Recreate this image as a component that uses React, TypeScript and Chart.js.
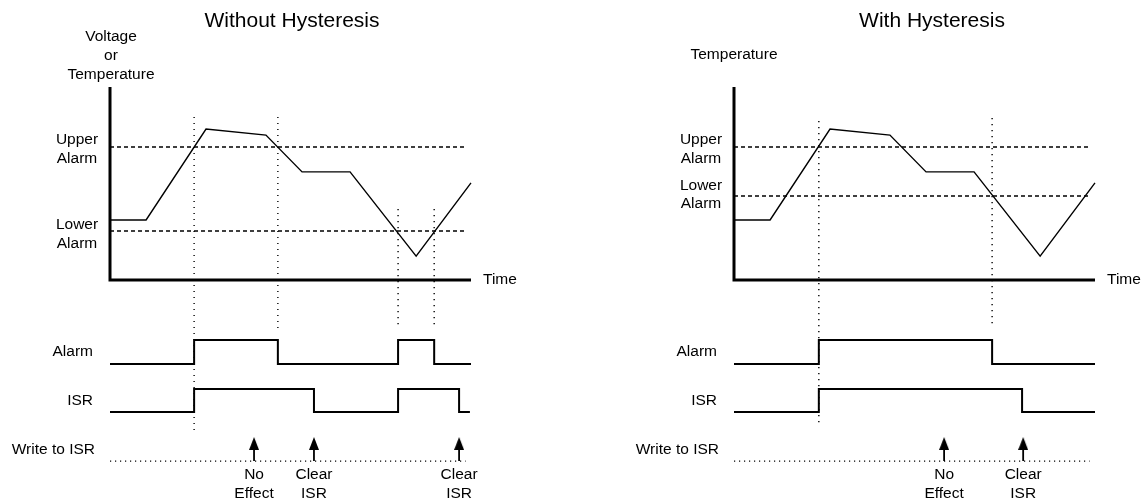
import { useEffect, useRef } from 'react';
import { Chart, registerables } from 'chart.js';

Chart.register(...registerables);

// ---------- data (time 0..100, value -100..100; analog signal lives in 0..100) ----------
const TIME = [0, 10, 26.6, 43.2, 53.2, 66.5, 84.8, 100];
const SIGNAL = [31.1, 31.1, 78.2, 75.1, 56, 56, 12.4, 50.3];

const UPPER_ALARM = 68.9;
const LOWER_ALARM_NO_HYST = 25.4;
const LOWER_ALARM_HYST = 43.5;

const ALARM_EDGES_NO_HYST = [23.3, 46.5, 79.8, 89.8];
const ISR_EDGES_NO_HYST = [23.3, 56.5, 79.8, 96.7];
const ALARM_EDGES_HYST = [23.5, 71.5];
const ISR_EDGES_HYST = [23.5, 79.8];

const WRITES_NO_HYST = [39.9, 56.5, 96.7];
const WRITES_HYST = [58.2, 80.1];
const WRITE_LABELS_NO_HYST = [['No', 'Effect'], ['Clear', 'ISR'], ['Clear', 'ISR']];
const WRITE_LABELS_HYST = [['No', 'Effect'], ['Clear', 'ISR']];

// [time, top value, bottom value]
const MARKERS_NO_HYST = [[23.3, 84.5, -77.7], [46.5, 84.5, -24.9], [79.8, 36.8, -24.9], [89.8, 36.8, -24.9]];
const MARKERS_HYST = [[23.5, 82.4, -76.2], [71.5, 83.9, -24.9]];

const ALARM_ROW = [-43.5, -31.1]; // low, high
const ISR_ROW = [-68.4, -56.5];
const WRITE_ROW = -93.8;
const ARROW_HEAD = -84.7;

const FONT = '"Liberation Sans", Arial, Helvetica, sans-serif';

function trace(edges: number[], end: number, row: number[]) {
  const pts = [{ x: 0, y: row[0] }];
  let lvl = 0;
  for (const e of edges) {
    pts.push({ x: e, y: row[lvl] });
    lvl = 1 - lvl;
    pts.push({ x: e, y: row[lvl] });
  }
  pts.push({ x: end, y: row[lvl] });
  return pts;
}

function arrowImage() {
  const c = document.createElement('canvas');
  c.width = 10;
  c.height = 13;
  const g = c.getContext('2d')!;
  g.fillStyle = '#000';
  g.beginPath();
  g.moveTo(5, 0);
  g.lineTo(10, 13);
  g.lineTo(0, 13);
  g.closePath();
  g.fill();
  return c;
}

type Panel = {
  title: string;
  titleX: number;
  yLabel: string[];
  yLabelY: number[];
  yLabelDX: number;
  lower: number;
  upperOff: number[];
  lowerOff: number[];
  alarmEdges: number[];
  isrEdges: number[];
  isrEnd: number;
  writes: number[];
  writeLabels: string[][];
  markers: number[][];
  padLeft: number;
  padRight: number;
  width: number;
  left: number;
};

const PANELS: Panel[] = [
  {
    title: 'Without Hysteresis', titleX: 292,
    yLabel: ['Voltage', 'or', 'Temperature'], yLabelY: [37, 56, 75], yLabelDX: 1,
    lower: LOWER_ALARM_NO_HYST, upperOff: [-7, 12], lowerOff: [-6, 13],
    alarmEdges: ALARM_EDGES_NO_HYST, isrEdges: ISR_EDGES_NO_HYST, isrEnd: 99.7,
    writes: WRITES_NO_HYST, writeLabels: WRITE_LABELS_NO_HYST, markers: MARKERS_NO_HYST,
    padLeft: 110, padRight: 100, width: 571, left: 0,
  },
  {
    title: 'With Hysteresis', titleX: 361,
    yLabel: ['Temperature'], yLabelY: [55], yLabelDX: 0,
    lower: LOWER_ALARM_HYST, upperOff: [-7, 12], lowerOff: [-10, 8],
    alarmEdges: ALARM_EDGES_HYST, isrEdges: ISR_EDGES_HYST, isrEnd: 100,
    writes: WRITES_HYST, writeLabels: WRITE_LABELS_HYST, markers: MARKERS_HYST,
    padLeft: 163, padRight: 48, width: 572, left: 571,
  },
];

function line(data: any[], width: number, dash: number[] = []) {
  return {
    type: 'scatter' as const,
    data,
    showLine: true,
    borderColor: '#000',
    backgroundColor: '#000',
    borderWidth: width,
    borderDash: dash,
    pointRadius: 0,
    pointHoverRadius: 0,
    tension: 0,
    clip: false as any,
  };
}

function PanelChart({ p }: { p: Panel }) {
  const ref = useRef<HTMLCanvasElement>(null);
  useEffect(() => {
    document.body.style.margin = '0';
    const head = arrowImage();
    const datasets: any[] = [];
    datasets.push({ ...line([{ x: 0, y: 100 }, { x: 0, y: 0 }, { x: 100, y: 0 }], 3), borderJoinStyle: 'miter' });
    datasets.push(line(TIME.map((t, i) => ({ x: t, y: SIGNAL[i] })), 1.4));
    datasets.push(line([{ x: 0, y: UPPER_ALARM }, { x: 98.9, y: UPPER_ALARM }], 1.6, [4, 3]));
    datasets.push(line([{ x: 0, y: p.lower }, { x: 98.9, y: p.lower }], 1.6, [4, 3]));
    for (const m of p.markers) {
      datasets.push(line([{ x: m[0], y: m[1] }, { x: m[0], y: m[2] }], 1.4, [1.2, 4.8]));
    }
    datasets.push(line(trace(p.alarmEdges, 100, ALARM_ROW), 2));
    datasets.push(line(trace(p.isrEdges, p.isrEnd, ISR_ROW), 2));
    datasets.push(line([{ x: 0, y: WRITE_ROW }, { x: 98.5, y: WRITE_ROW }], 1.3, [1.2, 3.8]));
    for (const w of p.writes) {
      datasets.push(line([{ x: w, y: WRITE_ROW }, { x: w, y: ARROW_HEAD }], 1.8));
    }
    datasets.push({
      type: 'scatter',
      data: p.writes.map((w) => ({ x: w, y: ARROW_HEAD })),
      pointStyle: head,
      pointRadius: 6,
      clip: false,
    });

    const textPlugin = {
      id: 'diagramText',
      afterDraw(chart: any) {
        const ctx = chart.ctx as CanvasRenderingContext2D;
        const xs = chart.scales.x;
        const ys = chart.scales.y;
        const L = chart.chartArea.left;
        const R = chart.chartArea.right;
        ctx.save();
        ctx.fillStyle = '#000';
        ctx.textBaseline = 'middle';
        ctx.textAlign = 'center';
        ctx.font = `21px ${FONT}`;
        ctx.fillText(p.title, p.titleX, 21);
        ctx.font = `15.5px ${FONT}`;
        p.yLabel.forEach((s, i) => ctx.fillText(s, L + p.yLabelDX, p.yLabelY[i]));
        const yu = ys.getPixelForValue(UPPER_ALARM);
        ctx.fillText('Upper', L - 33, yu + p.upperOff[0]);
        ctx.fillText('Alarm', L - 33, yu + p.upperOff[1]);
        const yl = ys.getPixelForValue(p.lower);
        ctx.fillText('Lower', L - 33, yl + p.lowerOff[0]);
        ctx.fillText('Alarm', L - 33, yl + p.lowerOff[1]);
        ctx.textAlign = 'left';
        ctx.fillText('Time', R + 12, ys.getPixelForValue(0));
        ctx.textAlign = 'right';
        const ya = (ys.getPixelForValue(ALARM_ROW[0]) + ys.getPixelForValue(ALARM_ROW[1])) / 2;
        ctx.fillText('Alarm', L - 17, ya);
        const yi = (ys.getPixelForValue(ISR_ROW[0]) + ys.getPixelForValue(ISR_ROW[1])) / 2;
        ctx.fillText('ISR', L - 17, yi);
        const yw = ys.getPixelForValue(WRITE_ROW);
        ctx.fillText('Write to ISR', L - 15, yw - 11);
        ctx.textAlign = 'center';
        p.writes.forEach((w, i) => {
          const x = xs.getPixelForValue(w);
          ctx.fillText(p.writeLabels[i][0], x, yw + 14);
          ctx.fillText(p.writeLabels[i][1], x, yw + 33);
        });
        ctx.restore();
      },
    };

    const chart = new Chart(ref.current!, {
      type: 'scatter',
      data: { datasets },
      options: {
        animation: false,
        responsive: false,
        events: [],
        layout: { padding: { left: p.padLeft, right: p.padRight, top: 87, bottom: 31 } },
        scales: {
          x: { type: 'linear', min: 0, max: 100, display: false },
          y: { type: 'linear', min: -100, max: 100, display: false },
        },
        plugins: { legend: { display: false }, tooltip: { enabled: false }, title: { display: false } },
      },
      plugins: [textPlugin],
    } as any);
    return () => chart.destroy();
  }, [p]);
  return (
    <canvas
      ref={ref}
      width={p.width}
      height={504}
      style={{ position: 'absolute', left: p.left, top: 0, width: p.width, height: 504 }}
    />
  );
}

export default function App() {
  return (
    <div style={{ position: 'relative', width: 1143, height: 504, background: '#fff' }}>
      {PANELS.map((p, i) => (
        <PanelChart key={i} p={p} />
      ))}
    </div>
  );
}
